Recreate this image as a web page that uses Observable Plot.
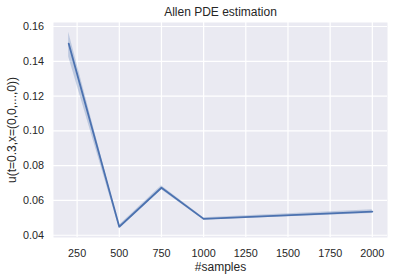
<!DOCTYPE html>
<html>
<head>
<meta charset="utf-8">
<script src="https://cdn.jsdelivr.net/npm/d3@7"></script>
<script src="https://cdn.jsdelivr.net/npm/@observablehq/plot@0.6"></script>
<style>
  html, body { margin: 0; padding: 0; background: #ffffff; }
  #chart svg { display: block; }
</style>
</head>
<body>
<div id="chart"></div>
<script>
// Data
const samples = [200, 500, 750, 1000, 2000];
const meanU   = [0.1502, 0.0449, 0.0673, 0.0494, 0.0536];
const lowU    = [0.1424, 0.0440, 0.0662, 0.0488, 0.0525];
const highU   = [0.1567, 0.0458, 0.0684, 0.0500, 0.0547];
const xTicks = [250, 500, 750, 1000, 1250, 1500, 1750, 2000];
const yTicks = [0.04, 0.06, 0.08, 0.10, 0.12, 0.14, 0.16];
const titleText = "Allen PDE estimation";
const xLabel = "#samples";
const yLabel = "u(t=0.3,x=(0,0,...,0))";

const rows = samples.map((s, i) => ({s, m: meanU[i], lo: lowU[i], hi: highU[i]}));

const blue = "#4C72B0";
const textColor = "#262626";
const font = "'Liberation Sans', Arial, sans-serif";

const chart = Plot.plot({
  width: 394,
  height: 279,
  marginLeft: 53,
  marginRight: 7,
  marginTop: 22,
  marginBottom: 42,
  x: {domain: [110, 2090]},
  y: {domain: [0.0387, 0.1623]},
  style: {fontFamily: font, color: textColor, background: "#ffffff", overflow: "visible"},
  marks: [
    // background panel: a frame filled with the seaborn darkgrid colour
    Plot.frame({fill: "#EAEAF2", stroke: "none"}),
    Plot.gridX(xTicks, {stroke: "#ffffff", strokeOpacity: 1, strokeWidth: 1.2}),
    Plot.gridY(yTicks, {stroke: "#ffffff", strokeOpacity: 1, strokeWidth: 1.2}),
    Plot.areaY(rows, {x: "s", y1: "lo", y2: "hi", fill: blue, fillOpacity: 0.28}),
    Plot.lineY(rows, {x: "s", y: "m", stroke: blue, strokeWidth: 1.8}),
    Plot.axisX(xTicks, {tickSize: 0, tickPadding: 12, tickFormat: d => String(d), fontSize: 10.8, fill: textColor, label: null}),
    Plot.axisY(yTicks, {tickSize: 0, tickPadding: 9.5, tickFormat: d3.format(".2f"), fontSize: 10.8, fill: textColor, label: null}),
    Plot.text([titleText], {frameAnchor: "top", textAnchor: "middle", lineAnchor: "middle", dy: -10.8, text: d => d, fontSize: 12, fill: textColor}),
    Plot.text([xLabel], {frameAnchor: "bottom", textAnchor: "middle", lineAnchor: "middle", dy: 29.2, text: d => d, fontSize: 12, fill: textColor}),
    Plot.text([yLabel], {frameAnchor: "left", textAnchor: "middle", lineAnchor: "middle", dx: -41, rotate: -90, text: d => d, fontSize: 12, fill: textColor})
  ]
});

document.getElementById("chart").appendChild(chart);
</script>
</body>
</html>
